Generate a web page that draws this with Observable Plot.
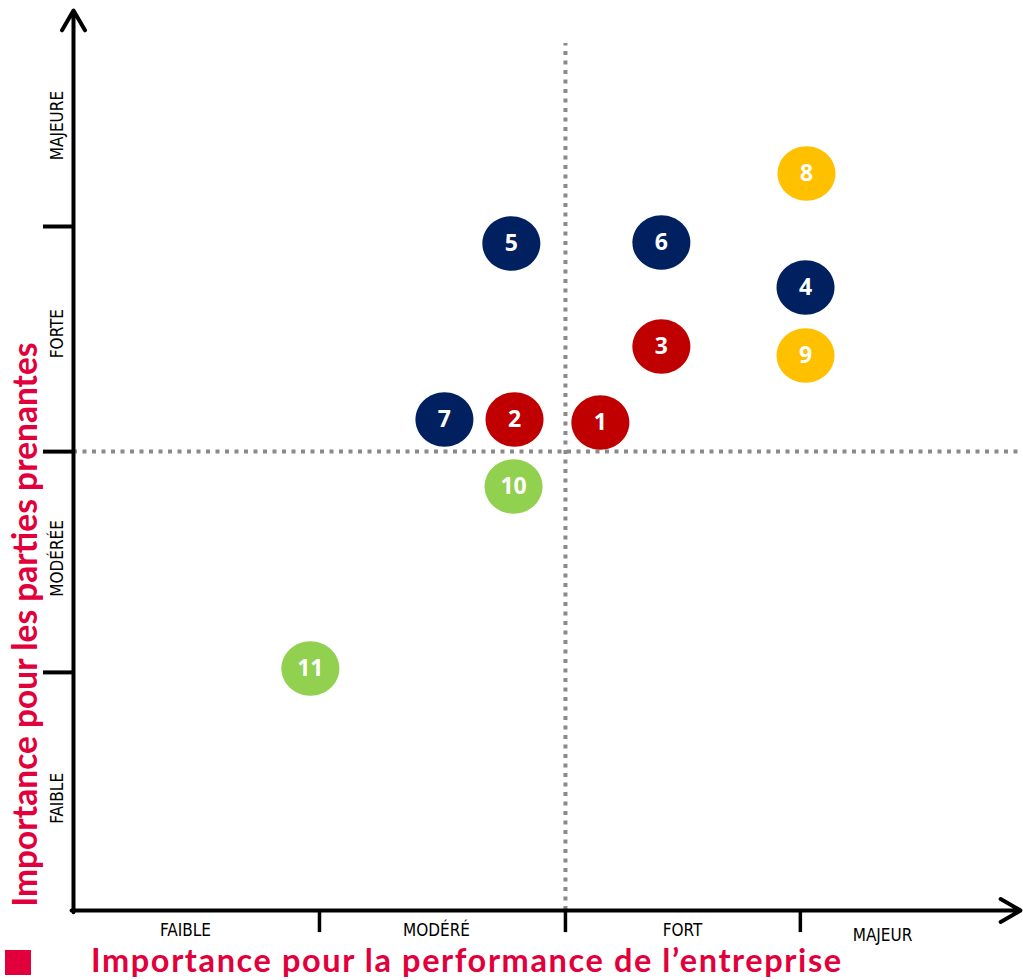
<!DOCTYPE html>
<html><head><meta charset="utf-8">
<script src="https://cdn.jsdelivr.net/npm/d3@7"></script>
<script src="https://cdn.jsdelivr.net/npm/@observablehq/plot@0.6"></script>
<style>
body{margin:0;background:#fff;}
#wrap{position:relative;width:1023px;}
#caption{position:relative;height:35px;}
#caption .sq{position:absolute;left:5px;top:5px;width:26px;height:25px;background:#E2003C;}
#caption .txt{position:absolute;display:block;left:91px;top:0px;height:30px;line-height:30px;font-family:Lato,"Open Sans",sans-serif;font-weight:bold;font-size:32.5px;letter-spacing:1.6px;color:#E2003C;white-space:nowrap;}
</style></head><body>
<div id="wrap"><div id="chart"></div><div id="caption"><span class="sq"></span><span class="txt">Importance pour la performance de l’entreprise</span></div></div>
<script>
// Enjeux (matrice de matérialité)
const ids    = ["1","2","3","4","5","6","7","8","9","10","11"];
const xs     = [2.142, 1.793, 2.390, 2.976, 1.780, 2.390, 1.508, 2.980, 2.976, 1.789, 0.963];
const ys     = [2.142, 2.155, 2.475, 2.734, 2.927, 2.932, 2.155, 3.235, 2.436, 1.861, 1.062];
const groups = ["rouge","rouge","rouge","bleu","bleu","bleu","bleu","jaune","jaune","vert","vert"];

const groupNames  = ["bleu","rouge","jaune","vert"];
const groupColors = ["#002060","#C00000","#FFC000","#92D050"];

// Catégories des axes
const xCategories = ["FAIBLE","MODÉRÉ","FORT","MAJEUR"];
const xCatPos     = [0.455, 1.476, 2.476, 3.289];
const xCatLevel   = [-0.088, -0.088, -0.088, -0.108];
const yCategories = ["FAIBLE","MODÉRÉE","FORTE","MAJEURE"];
const yCatPos     = [0.492, 1.545, 2.532, 3.445];
const xTicks = [1, 2, 2.955];
const yTicks = [1.045, 2.014, 3.002];
const xSplit = 2;
const ySplit = 2.014;
const xMax = 3.85, yMax = 3.95;

const yTitle = "Importance pour les parties prenantes";

const points = ids.map((id, i) => ({id, x: xs[i], y: ys[i], group: groups[i]}));

const ellipse = {draw(ctx, size){
  const r = Math.sqrt(size/Math.PI), rx = r, ry = r*0.94, k = 0.5523;
  ctx.moveTo(rx,0);
  ctx.bezierCurveTo(rx, ry*k, rx*k, ry, 0, ry);
  ctx.bezierCurveTo(-rx*k, ry, -rx, ry*k, -rx, 0);
  ctx.bezierCurveTo(-rx, -ry*k, -rx*k, -ry, 0, -ry);
  ctx.bezierCurveTo(rx*k, -ry, rx, -ry*k, rx, 0);
  ctx.closePath();
}};

const labelFont = '"Liberation Sans Narrow","DejaVu Sans Condensed",Roboto,sans-serif';

const chart = Plot.plot({
  width: 1023, height: 945,
  marginTop: 0, marginRight: 0, marginBottom: 0, marginLeft: 0,
  x: {domain: [0, xMax], range: [73, 1020], axis: null},
  y: {domain: [0, yMax], range: [910, 10], axis: null},
  color: {domain: groupNames, range: groupColors},
  style: {background: "#fff"},
  marks: [
    Plot.ruleX([xSplit], {y1: 0, y2: 3.805, stroke: "#8a8a8a", strokeWidth: 4, strokeDasharray: "4,5.5"}),
    Plot.ruleY([ySplit], {x1: 0, x2: xMax, stroke: "#8a8a8a", strokeWidth: 4, strokeDasharray: "4,5.5"}),
    Plot.ruleX(xTicks, {y1: 0, y2: -0.097, stroke: "#000", strokeWidth: 3.5}),
    Plot.ruleY(yTicks, {x1: -0.122, x2: 0, stroke: "#000", strokeWidth: 4}),
    Plot.arrow([{x1: 0, y1: -0.008, x2: 0, y2: yMax}], {x1: "x1", y1: "y1", x2: "x2", y2: "y2", stroke: "#000", strokeWidth: 4, headLength: 8.6, headAngle: 60}),
    Plot.arrow([{x1: -0.008, y1: 0, x2: xMax, y2: 0}], {x1: "x1", y1: "y1", x2: "x2", y2: "y2", stroke: "#000", strokeWidth: 4, headLength: 8.6, headAngle: 60}),
    Plot.text(xCategories, {x: (d, i) => xCatPos[i], y: (d, i) => xCatLevel[i], text: d => d, fontSize: 17, fontFamily: labelFont, fill: "#000"}),
    Plot.text(yCategories, {x: -0.065, y: (d, i) => yCatPos[i], text: d => d, rotate: -90, fontSize: 17, fontFamily: labelFont, fill: "#000"}),
    Plot.text([yTitle], {x: -0.191, y: 1.255, text: d => d, rotate: -90, fontSize: 33.5, fontWeight: "bold", fontFamily: 'Lato,"Open Sans",sans-serif', fill: "#E2003C"}),
    Plot.dot(points, {x: "x", y: "y", fill: "group", r: 29, symbol: ellipse, stroke: "none"}),
    Plot.text(points, {x: "x", y: "y", text: "id", fill: "#fff", fontSize: 23, fontWeight: "bold", fontFamily: '"Open Sans",sans-serif'})
  ]
});
document.getElementById("chart").appendChild(chart);
</script>
</body></html>
